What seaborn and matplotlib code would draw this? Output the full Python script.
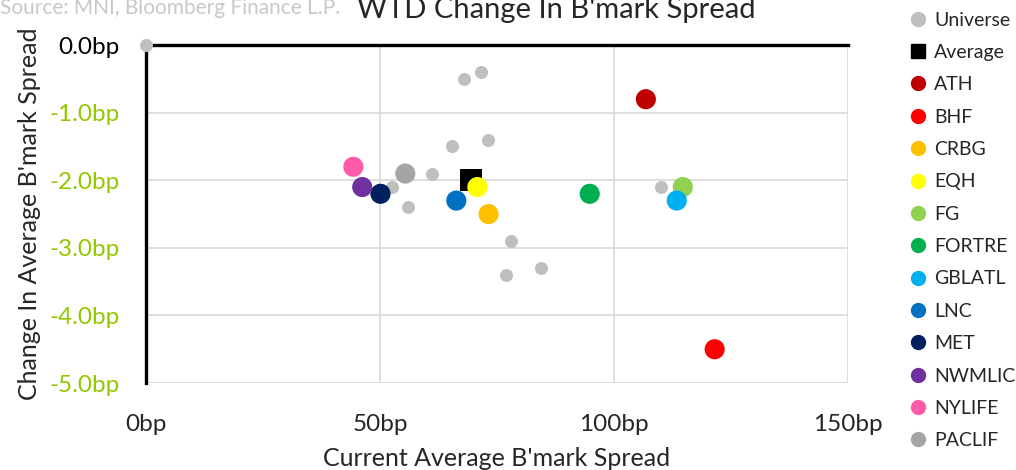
import seaborn as sns
import matplotlib.pyplot as plt
from matplotlib.lines import Line2D
import pandas as pd

sns.set_style(style='white')
plt.rcParams['font.family'] = ['Lato', 'DejaVu Sans']

# universe of issuers (grey dots)
uni_x = [0, 68, 71.5, 73, 65.3, 61, 52.5, 56, 78, 77, 84.5, 110]
uni_y = [0, -0.5, -0.4, -1.4, -1.5, -1.9, -2.1, -2.4, -2.9, -3.4, -3.3, -2.1]

# average
avg_x = [69.4]
avg_y = [-2.0]

# named issuers
names = ['ATH', 'BHF', 'CRBG', 'EQH', 'FG', 'FORTRE', 'GBLATL', 'LNC',
         'MET', 'NWMLIC', 'NYLIFE', 'PACLIF']
name_x = [106.8, 121.5, 73.2, 70.8, 114.7, 94.8, 113.4, 66.3, 50.1, 46.2, 44.3, 55.4]
name_y = [-0.8, -4.5, -2.5, -2.1, -2.1, -2.2, -2.3, -2.3, -2.2, -2.1, -1.8, -1.9]
colors = ['#C00000', '#FF0000', '#FFC000', '#FFFF00', '#92D050', '#00B050',
          '#00B0F0', '#0070C0', '#002060', '#7030A0', '#FF5BA8', '#A5A5A5']

x_ticks = [0, 50, 100, 150]
y_ticks = [0, -1, -2, -3, -4, -5]

uni_col = '#BFBFBF'
lime = '#92C800'

df_uni = pd.DataFrame({'x': uni_x, 'y': uni_y})
df_avg = pd.DataFrame({'x': avg_x, 'y': avg_y})
df_names = pd.DataFrame({'x': name_x, 'y': name_y, 'name': names})

fig = plt.figure(figsize=(10.16, 4.70), dpi=100)
ax = fig.add_axes([0.1437, 0.185, 0.691, 0.719])

sns.scatterplot(data=df_uni, x='x', y='y', color=uni_col, s=88, linewidth=0,
                ax=ax, legend=False, clip_on=False, zorder=3)
sns.scatterplot(data=df_avg, x='x', y='y', color='black', marker='s', s=230,
                linewidth=0, ax=ax, legend=False, zorder=4)
sns.scatterplot(data=df_names, x='x', y='y', hue='name', hue_order=names,
                palette=dict(zip(names, colors)), s=210, linewidth=0,
                ax=ax, legend=False, zorder=5)

ax.set_xlim(0, 150)
ax.set_ylim(-5, 0)
ax.set_xticks(x_ticks)
ax.set_yticks(y_ticks)
ax.set_xticklabels(['{}bp'.format(v) for v in x_ticks], fontsize=17.5)
ax.set_yticklabels(['{:.1f}bp'.format(v) for v in y_ticks], fontsize=17.5)
for lab, v in zip(ax.get_yticklabels(), y_ticks):
    lab.set_color('black' if v == 0 else lime)
ax.tick_params(axis='x', length=0, pad=22)
ax.tick_params(axis='y', length=0, pad=19)

ax.grid(True, color='#D9D9D9', linewidth=1.2)
ax.set_axisbelow(True)
ax.spines['right'].set_visible(False)
ax.spines['bottom'].set_visible(False)
ax.spines['top'].set_color('black')
ax.spines['top'].set_linewidth(2.4)
ax.spines['left'].set_color('black')
ax.spines['left'].set_linewidth(2.4)
ax.spines['top'].set_zorder(2)

ax.set_xlabel("Current Average B'mark Spread", fontsize=18, labelpad=9)
ax.set_ylabel("Change In Average B'mark Spread", fontsize=18, labelpad=6)

fig.text(0.548, 0.962, "WTD Change In B'mark Spread", fontsize=21,
         ha='center', va='baseline')
fig.text(0.0, 0.970, 'Source: MNI, Bloomberg Finance L.P.', fontsize=15,
         color='#C8C8C8', ha='left', va='baseline')

handles = [Line2D([], [], marker='o', color=uni_col, linestyle='', markersize=10)]
labels = ['Universe']
handles.append(Line2D([], [], marker='s', color='black', linestyle='', markersize=10))
labels.append('Average')
for n, c in zip(names, colors):
    handles.append(Line2D([], [], marker='o', color=c, linestyle='', markersize=10))
    labels.append(n)
fig.legend(handles, labels, loc='upper left', bbox_to_anchor=(0.889, 0.992),
           frameon=False, fontsize=14, handlelength=0.7, handletextpad=0.5,
           labelspacing=0.79, borderaxespad=0)

fig.savefig('out.png', dpi=100)
